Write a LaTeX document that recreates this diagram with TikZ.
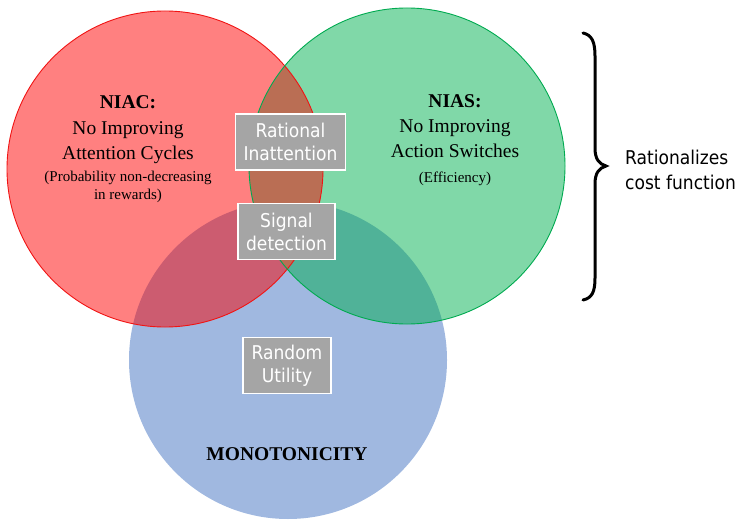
\documentclass[tikz,border=0pt]{standalone}
\usepackage{fontspec}
\setmainfont{Liberation Serif}
\newfontfamily\labelfont{DejaVu Sans Condensed}

\definecolor{redfill}{RGB}{255,128,128}
\definecolor{greenfill}{RGB}{128,216,168}
\definecolor{bluefill}{RGB}{160,184,224}
\definecolor{rgfill}{RGB}{186,110,84}
\definecolor{rbfill}{RGB}{204,92,112}
\definecolor{gbfill}{RGB}{80,178,152}
\definecolor{boxgray}{RGB}{165,165,165}
\definecolor{redline}{RGB}{240,20,20}
\definecolor{greenline}{RGB}{0,170,80}

\tikzset{
  graybox/.style={draw=white, line width=1.5pt, fill=boxgray, text=white,
    align=center, inner sep=0pt, font=\labelfont\fontsize{19}{23}\selectfont},
  bigtext/.style={anchor=base, inner sep=0pt, font=\fontsize{19.5}{24}\selectfont},
  titletext/.style={bigtext, font=\fontsize{19.5}{24}\selectfont\bfseries},
  smalltext/.style={anchor=base, inner sep=0pt, font=\fontsize{15}{18}\selectfont},
  sidetext/.style={anchor=base west, inner sep=0pt, font=\labelfont\fontsize{19}{23}\selectfont},
}

\begin{document}
\begin{tikzpicture}[x=1pt, y=-1pt]
  \useasboundingbox (0,0) rectangle (743,521);

  % circle centres
  \coordinate (R) at (165,169);
  \coordinate (G) at (407,166);
  \coordinate (B) at (288,360);
  \def\rr{158}

  % plain discs
  \fill[bluefill] (B) circle (159);
  \fill[redfill] (R) circle (\rr);
  \fill[greenfill] (G) circle (\rr);

  % overlaps
  \begin{scope}
    \clip (R) circle (\rr);
    \fill[rbfill] (B) circle (159);
  \end{scope}
  \begin{scope}
    \clip (G) circle (\rr);
    \fill[gbfill] (B) circle (159);
  \end{scope}
  \begin{scope}
    \clip (R) circle (\rr);
    \fill[rgfill] (G) circle (\rr);
  \end{scope}

  % outlines
  \draw[redline, line width=0.9pt] (R) circle (\rr);
  \draw[greenline, line width=0.9pt] (G) circle (\rr);

  % NIAC text
  \node[titletext] (niac1) at (128,109) {NIAC:};
  \node[bigtext] (niac2) at (128,135) {No Improving};
  \node[bigtext] (niac3) at (128,160) {Attention Cycles};
  \node[smalltext] (niac4) at (128,182) {(Probability non-decreasing};
  \node[smalltext] (niac5) at (128,200) {in rewards)};

  % NIAS text
  \node[titletext] (nias1) at (455,108) {NIAS:};
  \node[bigtext] (nias2) at (455,133) {No Improving};
  \node[bigtext] (nias3) at (455,158) {Action Switches};
  \node[smalltext] (nias4) at (455,183) {(Efficiency)};

  % monotonicity
  \node[titletext] (mono) at (287,460) {MONOTONICITY};

  % gray label boxes
  \node[graybox, minimum width=110pt, minimum height=56pt] (ri) at (290.5,142) {Rational\\Inattention};
  \node[graybox, minimum width=97pt, minimum height=56pt] (sd) at (286.5,231.5) {Signal\\detection};
  \node[graybox, minimum width=88pt, minimum height=56pt] (ru) at (287,365.5) {Random\\Utility};

  % brace
  \coordinate (btop) at (583,33);
  \coordinate (btip) at (606,166);
  \coordinate (bbot) at (583,300);
  \draw[line width=3pt, line cap=round]
    (btop) .. controls (592,35) and (595,42) .. (595,56)
    -- (595,148) .. controls (595,159) and (599,164) .. (btip)
    .. controls (599,168) and (595,173) .. (595,184)
    -- (595,278) .. controls (595,292) and (592,298) .. (bbot);

  \node[sidetext] (rat1) at (625,165) {Rationalizes};
  \node[sidetext] (rat2) at (625,190) {cost function};
\end{tikzpicture}
\end{document}
